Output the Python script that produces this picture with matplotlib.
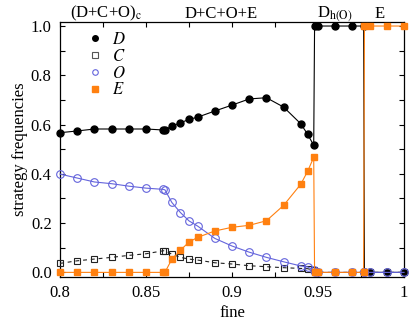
import matplotlib
matplotlib.use('Agg')
import matplotlib.pyplot as plt
from matplotlib.lines import Line2D
from matplotlib.ticker import MultipleLocator

plt.rcParams['font.family'] = 'serif'
plt.rcParams['font.serif'] = ['Liberation Serif', 'DejaVu Serif']
plt.rcParams['mathtext.fontset'] = 'stix'

# fine values (x) shared by all four strategies
fine = [0.80, 0.81, 0.82, 0.83, 0.84, 0.85, 0.86, 0.861, 0.865, 0.87, 0.875,
        0.88, 0.89, 0.90, 0.91, 0.92, 0.93, 0.94, 0.944, 0.9475,
        0.948, 0.95, 0.96, 0.97, 0.9765, 0.977, 0.98, 0.99, 1.0]

freq_D = [0.567, 0.574, 0.582, 0.582, 0.582, 0.582, 0.578, 0.578, 0.594, 0.607, 0.621,
          0.630, 0.655, 0.679, 0.704, 0.709, 0.671, 0.603, 0.560, 0.516,
          1, 1, 1, 1, 1, 0, 0, 0, 0]
freq_C = [0.0365, 0.047, 0.054, 0.061, 0.069, 0.0755, 0.0877, 0.0877, 0.074, 0.061, 0.054,
          0.050, 0.039, 0.034, 0.027, 0.023, 0.019, 0.016, 0.015, 0.008,
          0, 0, 0, 0, 0, 0, 0, 0, 0]
freq_O = [0.399, 0.383, 0.367, 0.360, 0.350, 0.342, 0.337, 0.335, 0.284, 0.243, 0.209,
          0.188, 0.138, 0.107, 0.082, 0.061, 0.043, 0.026, 0.022, 0.009,
          0, 0, 0, 0, 0, 0, 0, 0, 0]
freq_E = [0, 0, 0, 0, 0, 0, 0, 0, 0.053, 0.090, 0.123,
          0.142, 0.168, 0.183, 0.191, 0.2095, 0.272, 0.358, 0.411, 0.467,
          0, 0, 0, 0, 0, 1, 1, 1, 1]

xtick_vals = [0.8, 0.85, 0.9, 0.95, 1.0]
xtick_labels = ['0.8', '0.85', '0.9', '0.95', '1']
ytick_vals = [0.0, 0.2, 0.4, 0.6, 0.8, 1.0]
ytick_labels = ['0.0', '0.2', '0.4', '0.6', '0.8', '1.0']

# phase names written above the frame
phase_names = [r'(D+C+O)$_{\rm c}$', 'D+C+O+E', r'D$_{\rm h(O)}$', 'E']
phase_pos = [0.8267, 0.8936, 0.960, 0.986]

BLUE = '#6464dc'
ORANGE = '#ff8010'

fig = plt.figure(figsize=(4.14, 3.29), dpi=100)
ax = fig.add_axes([0.1449, 0.159, 0.831, 0.775])

ax.plot(fine, freq_D, color='black', lw=0.8, marker='o', ms=5,
        mfc='black', mec='black', clip_on=False, zorder=3)
ax.plot(fine, freq_C, color='#222222', lw=0.8, dashes=(3.5, 3.5), marker='s', ms=5,
        mfc='none', mec='#222222', mew=0.8, clip_on=False, zorder=4)
ax.plot(fine, freq_O, color=BLUE, lw=0.8, marker='o', ms=5.5,
        mfc='none', mec=BLUE, mew=0.8, clip_on=False, zorder=5)
ax.plot(fine, freq_E, color=ORANGE, lw=0.8, marker='s', ms=5,
        mfc=ORANGE, mec=ORANGE, clip_on=False, zorder=6)

ax.set_xlim(0.8, 1.0)
ax.set_ylim(-0.0175, 1.0175)
ax.set_xticks(xtick_vals)
ax.set_xticklabels(xtick_labels)
ax.set_yticks(ytick_vals)
ax.set_yticklabels(ytick_labels)
ax.xaxis.set_minor_locator(MultipleLocator(0.025))
ax.yaxis.set_minor_locator(MultipleLocator(0.1))
ax.tick_params(which='both', direction='in', top=True, right=True,
               length=3.5, width=0.8, labelsize=12, pad=6)
for sp in ax.spines.values():
    sp.set_linewidth(0.9)

ax.set_xlabel('fine', fontsize=12, labelpad=3)
ax.set_ylabel('strategy frequencies', fontsize=12, labelpad=2)

for name, xp in zip(phase_names, phase_pos):
    ax.text(xp, 1.016, name, transform=ax.get_xaxis_transform(),
            ha='center', va='baseline', fontsize=12)

handles = [
    Line2D([], [], ls='none', marker='o', ms=4, mfc='black', mec='black'),
    Line2D([], [], ls='none', marker='s', ms=4, mfc='none', mec='#555555', mew=0.8),
    Line2D([], [], ls='none', marker='o', ms=4, mfc='none', mec=BLUE, mew=0.8),
    Line2D([], [], ls='none', marker='s', ms=4, mfc=ORANGE, mec=ORANGE),
]
ax.legend(handles, ['$D$', '$C$', '$O$', '$E$'], loc='upper left',
          bbox_to_anchor=(0.078, 0.96), frameon=False, fontsize=12,
          handlelength=1.0, handletextpad=0.5, labelspacing=0.05,
          borderpad=0, borderaxespad=0)

fig.savefig('out.png', dpi=100)
